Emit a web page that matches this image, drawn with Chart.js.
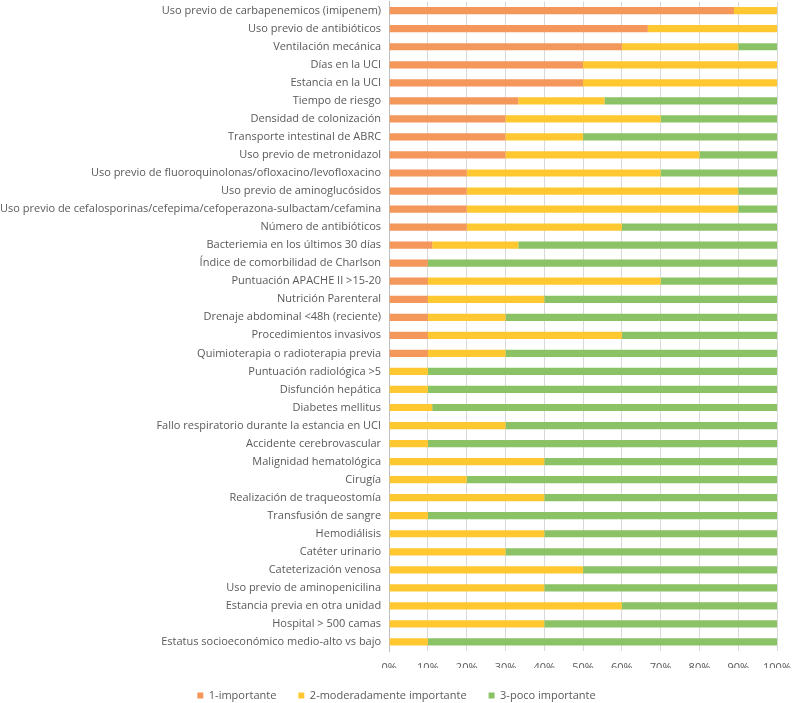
<!DOCTYPE html>
<html>
<head>
<meta charset="utf-8">
<script src="https://cdn.jsdelivr.net/npm/chart.js@4"></script>
<style>
  html, body { margin: 0; padding: 0; background: #fff; }
  #wrap { width: 793px; height: 703px; }
</style>
</head>
<body>
<div id="wrap"><canvas id="riskChart"></canvas></div>
<script>
const categories = [
  'Uso previo de carbapenemicos (imipenem)',
  'Uso previo de antibióticos',
  'Ventilación mecánica',
  'Días en la UCI',
  'Estancia en la UCI',
  'Tiempo de riesgo',
  'Densidad de colonización',
  'Transporte intestinal de ABRC',
  'Uso previo de metronidazol',
  'Uso previo de fluoroquinolonas/ofloxacino/levofloxacino',
  'Uso previo de aminoglucósidos',
  'Uso previo de cefalosporinas/cefepima/cefoperazona-sulbactam/cefamina',
  'Número de antibióticos',
  'Bacteriemia en los últimos 30 días',
  'Índice de comorbilidad de Charlson',
  'Puntuación APACHE II >15-20',
  'Nutrición Parenteral',
  'Drenaje abdominal <48h (reciente)',
  'Procedimientos invasivos',
  'Quimioterapia o radioterapia previa',
  'Puntuación radiológica >5',
  'Disfunción hepática',
  'Diabetes mellitus',
  'Fallo respiratorio durante la estancia en UCI',
  'Accidente cerebrovascular',
  'Malignidad hematológica',
  'Cirugía',
  'Realización de traqueostomía',
  'Transfusión de sangre',
  'Hemodiálisis',
  'Catéter urinario',
  'Cateterización venosa',
  'Uso previo de aminopenicilina',
  'Estancia previa en otra unidad',
  'Hospital > 500 camas',
  'Estatus socioeconómico medio-alto vs bajo',
];

const importante = [88.9, 66.7, 60, 50, 50, 33.3, 30, 30, 30, 20, 20, 20, 20,
  11.1, 10, 10, 10, 10, 10, 10, 0, 0, 0, 0, 0, 0, 0, 0, 0, 0, 0, 0, 0, 0, 0, 0];
const moderado = [11.1, 33.3, 30, 50, 50, 22.2, 40, 20, 50, 50, 70, 70, 40,
  22.2, 0, 60, 30, 20, 50, 20, 10, 10, 11.1, 30, 10, 40, 20, 40, 10, 40, 30, 50, 40, 60, 40, 10];
const poco = [0, 0, 10, 0, 0, 44.5, 30, 50, 20, 30, 10, 10, 40,
  66.7, 90, 30, 60, 70, 40, 70, 90, 90, 88.9, 70, 90, 60, 80, 60, 90, 60, 70, 50, 60, 40, 60, 90];

const seriesLabels = ['1-importante', '2-moderadamente importante', '3-poco importante'];
const xTicks = [0, 10, 20, 30, 40, 50, 60, 70, 80, 90, 100];

const textColor = '#595959';
const font = { family: 'Open Sans', size: 11 };

// legend sits tight under the x labels, like the Excel original
const legendHeight = {
  id: 'legendHeight',
  beforeInit(chart) {
    const fit = chart.legend.fit;
    chart.legend.fit = function () {
      fit.call(this);
      this.height = 35;
    };
  },
};

const ctx = document.getElementById('riskChart');
new Chart(ctx, {
  type: 'bar',
  data: {
    labels: categories,
    datasets: [
      { label: seriesLabels[0], data: importante, backgroundColor: '#F4975A' },
      { label: seriesLabels[1], data: moderado, backgroundColor: '#FFC830' },
      { label: seriesLabels[2], data: poco, backgroundColor: '#8CC266' },
    ],
  },
  options: {
    indexAxis: 'y',
    responsive: true,
    maintainAspectRatio: false,
    animation: false,
    layout: { padding: { left: 0, right: 0, top: -14, bottom: 0 } },
    datasets: {
      bar: { barPercentage: 0.8, categoryPercentage: 0.5, borderWidth: 0 },
    },
    scales: {
      x: {
        stacked: true,
        min: 0,
        max: 100,
        afterBuildTicks: (axis) => {
          axis.ticks = xTicks.map(v => ({ value: v }));
        },
        afterFit: (axis) => {
          axis.height = 17;
        },
        grid: { color: '#d9d9d9', drawTicks: false },
        border: { display: false },
        ticks: {
          color: textColor,
          font: { family: 'Open Sans', size: 11, lineHeight: 2.7 },
          padding: 2,
          maxRotation: 0,
          callback: (value) => value + '%',
        },
      },
      y: {
        stacked: true,
        grid: { display: false },
        border: { display: true, color: '#bfbfbf' },
        ticks: {
          color: textColor,
          font: { family: 'Open Sans', size: 11, lineHeight: 0.3 },
          padding: 0,
          autoSkip: false,
        },
      },
    },
    plugins: {
      legend: {
        position: 'bottom',
        labels: {
          color: textColor,
          font: font,
          usePointStyle: true,
          pointStyle: 'rect',
          boxWidth: 6,
          boxHeight: 6,
          padding: 22,
        },
      },
      tooltip: { enabled: false },
    },
  },
  plugins: [legendHeight],
});
</script>
</body>
</html>
